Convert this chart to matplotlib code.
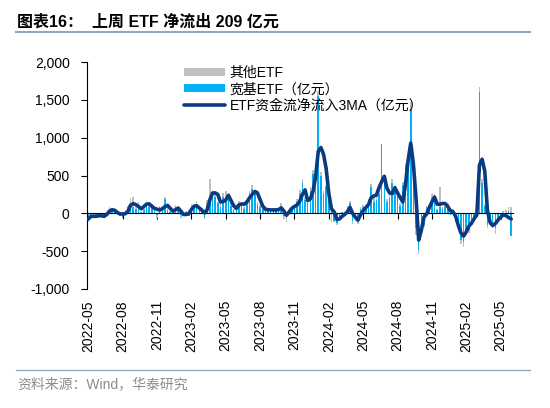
import numpy as np
import matplotlib
matplotlib.use("Agg")
import matplotlib.pyplot as plt
from matplotlib.ticker import FuncFormatter
from matplotlib.lines import Line2D

plt.rcParams['font.family'] = ['Liberation Sans', 'Noto Sans CJK SC', 'DejaVu Sans']

# ---------------- data (weekly, 亿元) ----------------
tick_labels = ["2022-05", "2022-08", "2022-11", "2023-02", "2023-05", "2023-08",
               "2023-11", "2024-02", "2024-05", "2024-08", "2024-11", "2025-02",
               "2025-05"]
weeks_per_label = 13

broad_etf = [
    -100, -30, -50, -20, -40, -30, -60, 10, 60, 40,
    30, -20, -40, -60, 30, 80, 120, 90, 60, 110,
    20, 40, 120, 90, 100, 70, -20, 80, 40, 190,
    50, 20, 30, 90, 40, -20, -30, 20, -40, 90,
    70, 120, 40, 50, -60, 100, 200, 250, 220, 130,
    80, 220, 150, 180, 100, 40, 90, 140, 100, 60,
    130, 250, 320, 260, 120, 90, 60, 40, 30, 50,
    30, 40, 60, 100, -30, -50, 20, 60, 80, 150,
    260, 400, 180, 150, 300, 520, 600, 1550, 500, 250,
    350, 300, 60, -100, -130, -60, 20, -30, 70, 130,
    -100, -60, -120, 60, 80, 50, 150, 350, 150, 180,
    250, 920, 420, 150, 200, 400, 300, 250, 100, 380,
    620, 680, 1380, 450, -200, -480, -200, -150, 80, 60,
    200, 150, 40, 80, 60, 80, 100, -20, 40, -100,
    -200, -350, -380, -250, -220, -120, -60, 20, 1600, 400,
    100, -150, -120, -150, -200, -100, -60, -30, -10, 30,
    -300,
]

other_etf = [
    -20, -10, 10, -20, 10, -10, 0, -20, 20, 30,
    -10, 10, 10, 10, 20, 20, 80, 120, 20, 40,
    -10, 30, 40, 60, 20, -10, -40, 20, 10, 20,
    30, 10, 30, 20, 30, -40, -10, 10, 10, 30,
    30, 40, 20, 20, -20, 80, 250, 60, 40, 20,
    60, 50, 150, 60, 30, 20, 30, 20, 40, 20,
    40, 40, 50, 40, 30, 20, 20, 10, 20, 10,
    0, 20, 10, 30, -40, -60, -10, 20, 20, 40,
    50, 60, 40, 20, 50, 50, 50, 70, 50, 40,
    30, 40, -120, -20, -20, -20, -10, 10, 30, 30,
    -40, -20, -20, 20, 30, 20, 40, 40, 60, 40,
    60, 0, 60, 40, 50, 60, 50, 40, 30, 40,
    40, 40, 90, 30, -80, -60, -50, -30, 20, 40,
    60, 100, 20, 270, 20, 20, 30, 20, 20, -20,
    -40, -50, -60, -40, -40, -30, -20, 30, 75, 50,
    20, -50, -30, -40, -70, -20, -20, 30, 40, 60,
    90,
]

flow_3ma = [
    -75, -40, -40, -38, -32, -32, -40, -15, 30, 48,
    40, 10, -8, -8, -5, 25, 110, 128, 115, 90,
    60, 90, 120, 125, 95, 65, 55, 42, 60, 90,
    105, 65, 28, 48, 70, 30, -15, -15, -5, 50,
    95, 100, 70, 40, 5, 50, 180, 268, 270, 250,
    150, 155, 175, 238, 170, 100, 65, 110, 125, 120,
    150, 205, 250, 290, 270, 180, 95, 55, 48, 45,
    45, 45, 50, 72, 30, -25, 20, 65, 92, 110,
    160, 250, 310, 170, 190, 290, 480, 820, 870, 780,
    590, 260, 60, 20, -80, -75, -40, -15, 20, 80,
    0, -50, -90, -20, 35, 75, 115, 205, 230, 240,
    340, 420, 490, 330, 270, 260, 340, 270, 210, 150,
    380, 700, 930, 650, 200, -355, -225, -50, -10, 75,
    150, 215, 120, 120, 130, 130, 90, 35, 20, -40,
    -160, -260, -300, -245, -170, -130, -70, -20, 640, 715,
    560, 40, -120, -160, -135, -90, -50, -20, -30, -55,
    -75,
]

label_other = "其他ETF"
label_broad = "宽基ETF（亿元）"
label_ma = "ETF资金流净流入3MA（亿元）"

# ---------------- figure ----------------
W, H = 550, 408
fig = plt.figure(figsize=(W / 100, H / 100), dpi=100)
fig.patch.set_facecolor("white")

ax = fig.add_axes([87 / W, 1 - 289 / H, 425.5 / W, 227 / H])

x = np.arange(len(flow_3ma))
broad = np.array(broad_etf, dtype=float)
other = np.array(other_etf, dtype=float)
stack_base = np.where(np.sign(other) == np.sign(broad), broad, 0.0)

C_GRAY = "#BFBFBF"
C_BLUE = "#00B0F0"
C_NAVY = "#0A3A80"

bw = 0.6
h_broad = ax.bar(x, broad, width=bw, color=C_BLUE, linewidth=0, zorder=2, label=label_broad)
h_other = ax.bar(x, other, bottom=stack_base, width=bw, color=C_GRAY, linewidth=0, zorder=2,
                 label=label_other)
h_ma, = ax.plot(x, flow_3ma, color=C_NAVY, lw=2.6, zorder=4, solid_joinstyle="round",
                solid_capstyle="round", label=label_ma)

ax.set_xlim(-0.5, len(x) - 0.5)
ax.set_ylim(-1000, 2000)
ax.set_yticks(np.arange(-1000, 2001, 500))
ax.yaxis.set_major_formatter(FuncFormatter(lambda v, p: f"{int(v):,}"))

for s in ["top", "right"]:
    ax.spines[s].set_visible(False)
ax.spines["left"].set_linewidth(0.8)
ax.spines["bottom"].set_position(("data", 0))
ax.spines["bottom"].set_linewidth(0.8)
ax.spines["bottom"].set_zorder(3)

ax.tick_params(axis="y", direction="out", length=4.5, width=0.8, pad=8, labelsize=10,
               colors="black")
tick_pos = x[::weeks_per_label][:len(tick_labels)]
ax.set_xticks(tick_pos)
ax.tick_params(axis="x", direction="out", length=4, width=0.8, labelbottom=False)

sec = ax.secondary_xaxis("bottom")
sec.set_xticks(tick_pos, labels=tick_labels)
sec.tick_params(axis="x", length=0, pad=8, labelsize=10, labelrotation=90)
sec.spines["bottom"].set_visible(False)

ax.legend(handles=[h_other, h_broad, h_ma], labels=[label_other, label_broad, label_ma],
          loc="upper left", bbox_to_anchor=(0.229, 0.984), frameon=False, fontsize=10,
          handlelength=2.9, handleheight=0.5, labelspacing=0.18, handletextpad=0.35,
          borderpad=0, borderaxespad=0)

# ---------------- title, rules, source ----------------
fig.text(17 / W, 1 - 22 / H, "图表16：  上周 ETF 净流出 209 亿元", fontsize=11.5,
         fontweight="bold", ha="left", va="center")
rule_color = "#8FA9C9"
fig.add_artist(Line2D([16 / W, 530 / W], [1 - 32 / H, 1 - 32 / H], color=rule_color, lw=1.5))
fig.add_artist(Line2D([16 / W, 530 / W], [1 - 370 / H, 1 - 370 / H], color=rule_color, lw=1.0))
fig.text(17 / W, 1 - 384 / H, "资料来源：Wind，华泰研究", fontsize=10, color="#8C8C8C",
         ha="left", va="center")

fig.savefig("out.png", dpi=100, facecolor="white")
